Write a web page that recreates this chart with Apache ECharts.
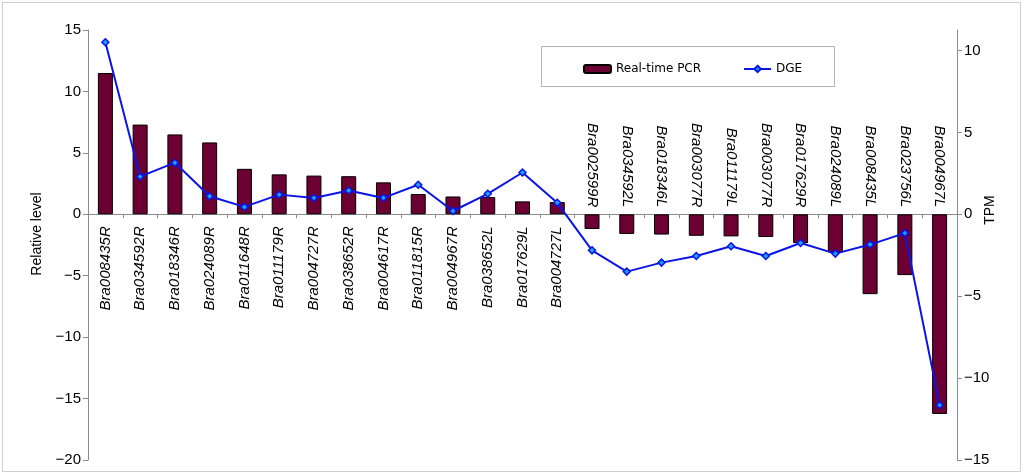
<!DOCTYPE html>
<html>
<head>
<meta charset="utf-8">
<script src="https://cdn.jsdelivr.net/npm/echarts@6/dist/echarts.min.js"></script>
<style>
html,body{margin:0;padding:0;background:#fff;}
#c{width:1024px;height:475px;}
</style>
</head>
<body>
<div id="c"></div>
<script>
const categories = ['Bra008435R','Bra034592R','Bra018346R','Bra024089R','Bra011648R','Bra011179R','Bra004727R','Bra038652R','Bra004617R','Bra011815R','Bra004967R','Bra038652L','Bra017629L','Bra004727L','Bra002599R','Bra034592L','Bra018346L','Bra003077R','Bra011179L','Bra003077R','Bra017629R','Bra024089L','Bra008435L','Bra023756L','Bra004967L'];
const pcrValues = [11.5, 7.3, 6.5, 5.85, 3.7, 3.25, 3.15, 3.1, 2.6, 1.65, 1.45, 1.4, 1.05, 1.0, -1.2, -1.6, -1.65, -1.75, -1.8, -1.85, -2.35, -3.1, -6.5, -4.95, -16.25];
const dgeValues = [10.5, 2.3, 3.15, 1.1, 0.45, 1.2, 1.0, 1.45, 1.0, 1.8, 0.2, 1.25, 2.55, 0.7, -2.2, -3.5, -2.95, -2.55, -1.95, -2.55, -1.75, -2.4, -1.85, -1.15, -11.65];
const leftTicks = [-20, -15, -10, -5, 0, 5, 10, 15];
const rightTicks = [-15, -10, -5, 0, 5, 10];
const seriesNames = ['Real-time PCR', 'DGE'];
const axisNames = ['Relative level', 'TPM'];

const chart = echarts.init(document.getElementById('c'));
const lblFont = 'Liberation Sans, Arial, sans-serif';
const fmtNum = v => (v < 0 ? '\u2212' + Math.abs(v) : String(v));

// grid geometry (layout only)
const gTop = 30, gBottom = 15, gHeight = 475 - gTop - gBottom;
const yMin = -20, yMax = 15;
const zeroFromTop = gHeight * yMax / (yMax - yMin);
const zeroFromBottom = gHeight - zeroFromTop;

chart.setOption({
  backgroundColor: '#fff',
  animation: false,
  grid: {left: 88, right: 67, top: gTop, bottom: gBottom, containLabel: false, outerBoundsMode: 'none'},
  legend: {
    data: seriesNames,
    left: 578, top: 58,
    itemWidth: 27, itemHeight: 8, itemGap: 42,
    textStyle: {fontFamily: 'DejaVu Sans, Verdana, sans-serif', fontSize: 12, color: '#000'}
  },
  graphic: [
    {type: 'rect', shape: {x: 2.5, y: 2.5, width: 1018, height: 469}, style: {fill: null, stroke: '#cfcfcf', lineWidth: 1}, silent: true, z: -10},
    {type: 'rect', shape: {x: 541.5, y: 46.5, width: 293, height: 40}, style: {fill: '#fff', stroke: '#b0b0b0', lineWidth: 1}, silent: true, z: -5},
    {type: 'text', x: 37, y: 234, rotation: Math.PI / 2,
     style: {text: axisNames[0], font: '14px ' + lblFont, fill: '#000', align: 'center', verticalAlign: 'middle'}},
    {type: 'text', x: 990, y: 210, rotation: Math.PI / 2,
     style: {text: axisNames[1], font: '14px ' + lblFont, fill: '#000', align: 'center', verticalAlign: 'middle'}}
  ],
  xAxis: [
    {
      type: 'category', data: categories, position: 'bottom', offset: -zeroFromBottom,
      axisLine: {onZero: false, lineStyle: {color: '#8c8c8c', width: 1}},
      axisTick: {show: true, length: 4, lineStyle: {color: '#8c8c8c'}},
      axisLabel: {
        interval: 0, rotate: 90, margin: 12,
        fontFamily: lblFont, fontSize: 15, fontStyle: 'italic', color: '#000',
        formatter: (v, i) => (pcrValues[i] >= 0 ? v : '')
      },
      splitLine: {show: false}
    },
    {
      type: 'category', data: categories, position: 'top', offset: -zeroFromTop,
      axisLine: {show: false, onZero: false},
      axisTick: {show: false},
      axisLabel: {
        interval: 0, rotate: 90, margin: 7,
        fontFamily: lblFont, fontSize: 15, fontStyle: 'italic', color: '#000',
        formatter: (v, i) => (pcrValues[i] < 0 ? v : '')
      },
      splitLine: {show: false}
    }
  ],
  yAxis: [
    {
      type: 'value', min: yMin, max: yMax, interval: 5, position: 'left',
      axisLine: {show: true, onZero: false, lineStyle: {color: '#8c8c8c'}},
      axisTick: {show: true, length: 5, customValues: leftTicks, lineStyle: {color: '#8c8c8c'}},
      axisLabel: {customValues: leftTicks, margin: 7, fontFamily: lblFont, fontSize: 15, color: '#000', formatter: fmtNum},
      splitLine: {show: false}
    },
    {
      type: 'value', min: -15, max: 11.25, interval: 5, position: 'right',
      axisLine: {show: true, onZero: false, lineStyle: {color: '#8c8c8c'}},
      axisTick: {show: true, length: 5, customValues: rightTicks, lineStyle: {color: '#8c8c8c'}},
      axisLabel: {customValues: rightTicks, margin: 7, fontFamily: lblFont, fontSize: 15, color: '#000', formatter: fmtNum},
      splitLine: {show: false}
    }
  ],
  series: [
    {
      name: seriesNames[0], type: 'bar', xAxisIndex: 0, yAxisIndex: 0,
      data: pcrValues, barWidth: 15,
      itemStyle: {color: '#6d0032', borderColor: '#000', borderWidth: 1}
    },
    {
      name: seriesNames[1], type: 'line', xAxisIndex: 0, yAxisIndex: 1,
      data: dgeValues, symbol: 'diamond', symbolSize: 7,
      lineStyle: {color: '#0a14e6', width: 2},
      itemStyle: {color: '#1ea0ff', borderColor: '#0a14e6', borderWidth: 1.5},
      z: 5
    }
  ]
});
</script>
</body>
</html>
